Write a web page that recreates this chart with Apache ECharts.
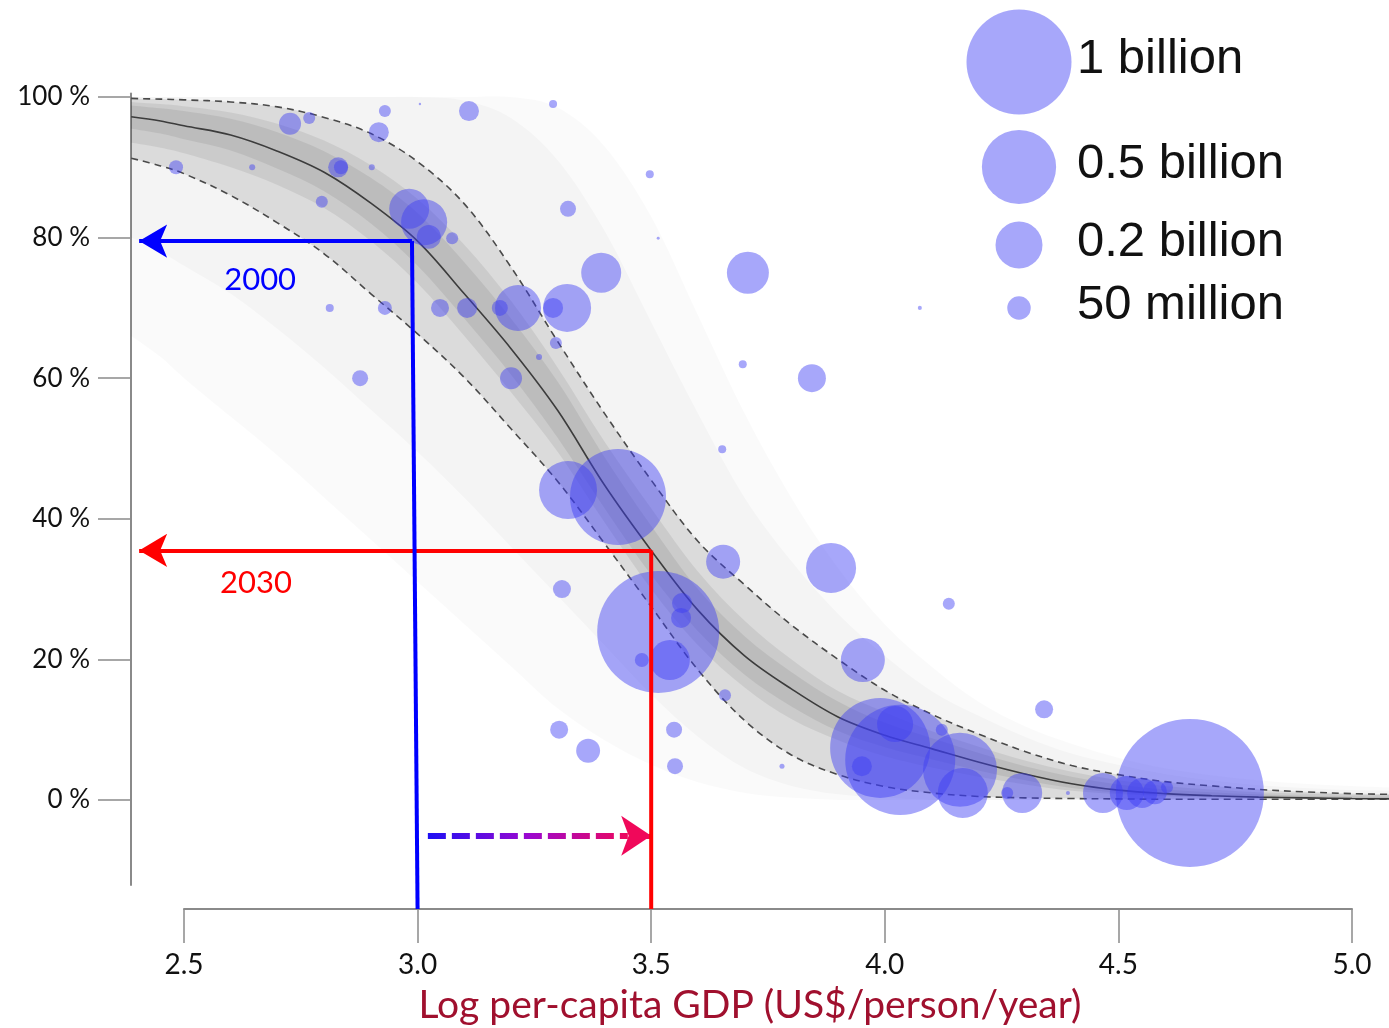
<!DOCTYPE html>
<html>
<head>
<meta charset="utf-8">
<script src="https://cdn.jsdelivr.net/npm/echarts@6/dist/echarts.min.js"></script>
<style>
  html, body { margin: 0; padding: 0; background: #ffffff; }
  #chart { width: 1389px; height: 1028px; }
</style>
</head>
<body>
<div id="chart"></div>
<script>
// Log10 per-capita GDP positions at which the fitted curves are sampled
const gdpGrid = [2.387, 2.45, 2.5, 2.6, 2.7, 2.8, 2.9, 3.0, 3.1, 3.2, 3.3, 3.4, 3.5, 3.6, 3.7, 3.8, 3.9, 4.0, 4.1, 4.2, 4.3, 4.4, 4.5, 4.6, 4.7, 4.8, 4.9, 5.0, 5.08];
// Central fit (%)
const fitMid = [97.2, 96.6, 95.9, 94.6, 92.3, 89.3, 84.9, 79.5, 72.0, 64.2, 55.4, 44.8, 35.5, 27.0, 20.5, 15.8, 11.8, 9.2, 7.3, 5.4, 3.7, 2.3, 1.4, 0.9, 0.6, 0.4, 0.3, 0.2, 0.15];
// Dashed confidence bounds (%)
const fitUpper = [99.8, 99.7, 99.6, 99.3, 98.6, 97.1, 94.8, 90.8, 84.8, 75.8, 65.2, 55.0, 45.5, 36.8, 30.6, 24.9, 20.0, 15.6, 12.2, 9.4, 6.9, 4.9, 3.6, 2.6, 2.0, 1.5, 1.15, 0.9, 0.8];
const fitLower = [91.3, 90.2, 89.1, 86.0, 82.1, 77.7, 72.0, 66.3, 60.1, 52.8, 45.3, 36.5, 27.5, 18.5, 11.3, 6.4, 3.6, 1.9, 1.0, 0.5, 0.3, 0.2, 0.15, 0.1, 0.1, 0.1, 0.1, 0.1, 0.1];
// Densest part of the bootstrap fits (%), wide and narrow
const coreUpper = [99.3, 99.0, 98.7, 97.8, 96.2, 93.8, 90.3, 85.5, 79.0, 71.0, 61.5, 51.0, 41.5, 32.5, 25.5, 20.0, 15.5, 12.5, 9.8, 7.6, 5.6, 4.0, 2.8, 2.0, 1.5, 1.1, 0.9, 0.75, 0.7];
const coreLower = [93.5, 92.8, 92.0, 90.0, 87.5, 84.2, 79.5, 73.5, 66.0, 58.0, 49.5, 39.5, 30.0, 22.0, 16.0, 11.5, 8.5, 6.2, 4.6, 3.3, 2.2, 1.3, 0.8, 0.5, 0.35, 0.25, 0.2, 0.15, 0.12];
const ridgeUpper = [98.8, 98.4, 98.0, 96.9, 95.0, 92.3, 88.5, 83.5, 76.5, 68.5, 59.5, 48.8, 39.0, 30.0, 23.3, 18.2, 14.0, 11.0, 8.8, 6.7, 4.8, 3.3, 2.2, 1.5, 1.1, 0.8, 0.6, 0.5, 0.45];
const ridgeLower = [95.5, 94.8, 94.0, 92.4, 89.8, 86.6, 82.0, 76.0, 68.5, 60.5, 51.5, 41.5, 32.0, 24.0, 17.8, 13.3, 9.8, 7.5, 5.8, 4.2, 2.8, 1.7, 1.0, 0.6, 0.45, 0.3, 0.25, 0.2, 0.15];
// Faint fan of individual bootstrap fits (%), inner and outer reach
const fanInUpper = [100, 100, 100, 100, 100, 100, 100, 100, 99.5, 97.0, 91.0, 81.0, 68.0, 55.0, 43.0, 34.0, 26.5, 20.5, 15.5, 12.0, 9.0, 6.6, 5.0, 3.7, 2.8, 2.1, 1.7, 1.4, 1.3];
const fanInLower = [80.0, 78.0, 76.0, 72.0, 67.0, 61.5, 55.5, 49.5, 43.0, 36.0, 29.0, 22.0, 15.0, 9.0, 4.5, 2.0, 0.8, 0.3, 0, 0, 0, 0, 0, 0, 0, 0, 0, 0, 0];
const fanOutUpper = [100, 100, 100, 100, 100, 100, 100, 100, 100, 100, 98.5, 93.0, 83.0, 69.0, 55.0, 43.0, 33.0, 25.0, 19.0, 14.0, 10.5, 8.0, 6.0, 4.5, 3.5, 2.8, 2.3, 2.0, 1.8];
const fanOutLower = [66.0, 63.0, 60.0, 54.5, 49.0, 43.0, 37.0, 31.0, 25.0, 19.0, 13.0, 8.5, 5.0, 2.5, 1.0, 0.3, 0, 0, 0, 0, 0, 0, 0, 0, 0, 0, 0, 0, 0];

// Countries: log GDP, share (%), population (millions)
const countryGdp = [2.483, 2.646, 2.727, 2.768, 2.830, 2.836, 2.902, 2.795, 2.917, 2.930, 3.005, 3.110, 3.290, 2.982, 3.014, 3.024, 3.074, 3.322, 3.497, 3.515, 3.393, 3.707, 2.812, 2.930, 3.048, 3.106, 3.176, 3.215, 3.290, 3.320, 3.296, 3.260, 3.200, 2.877, 3.696, 3.844, 4.075, 3.652, 3.322, 3.429, 3.654, 3.885, 3.309, 4.137, 3.515, 3.566, 3.564, 3.540, 3.480, 3.658, 3.953, 4.341, 3.303, 3.365, 3.549, 3.551, 3.780, 3.990, 4.033, 4.022, 3.951, 4.122, 4.161, 4.167, 4.294, 4.262, 4.653, 4.467, 4.518, 4.551, 4.578, 4.604, 4.392];
const countryShare = [90.0, 90.0, 96.2, 97.0, 90.0, 90.0, 90.0, 85.1, 95.0, 98.0, 99.0, 98.0, 99.0, 84.1, 82.2, 80.1, 79.9, 84.1, 89.0, 79.9, 75.0, 75.0, 70.0, 70.0, 70.0, 70.0, 70.0, 70.0, 70.0, 70.0, 65.0, 63.0, 60.0, 60.0, 62.0, 60.0, 70.0, 49.9, 44.1, 43.1, 33.9, 33.0, 30.0, 27.9, 23.9, 28.0, 25.9, 19.9, 19.9, 14.9, 19.9, 12.9, 10.0, 7.0, 10.0, 4.8, 4.8, 7.4, 5.7, 10.8, 4.8, 10.0, 4.3, 1.0, 1.0, 1.0, 1.0, 1.0, 1.0, 1.0, 1.1, 1.8, 1.0];
const countryPop = [17.8, 3.3, 43.9, 13.1, 36.3, 17.8, 3.3, 13.1, 36.3, 13.1, 0.5, 36.3, 5.8, 145, 192, 52, 13.1, 23.2, 5.8, 0.8, 145, 160, 5.8, 17.8, 29.4, 36.3, 23.2, 192, 36.3, 209, 13.1, 3.3, 43.9, 23.2, 5.8, 71.1, 1.5, 5.8, 305, 836, 105, 227, 29.4, 13.1, 1350, 36.3, 36.3, 145, 17.8, 13.1, 176, 29.4, 29.4, 52, 23.2, 23.2, 2.3, 907, 1098, 118, 36.3, 13.1, 497, 227, 145, 13.1, 1987, 145, 105, 82, 52, 13.1, 1.5];

// Axis ticks
const shareTicks = [0, 20, 40, 60, 80, 100];
const gdpTickMin = 2.5, gdpTickMax = 5.0, gdpTickStep = 0.5;

// Bubble size key (millions)
const keyPops = [1000, 500, 200, 50];
const keyNames = ['1 billion', '0.5 billion', '0.2 billion', '50 million'];

// Year read-offs: GDP, share, colour
const yearNames = ['2000', '2030'];
const yearGdp = [3.0, 3.5];
const yearCornerGdp = [2.988, 3.5];
const yearShare = [79.5, 35.5];
const yearColors = ['#0000ff', '#ff0000'];
const yearLabelGdp = [2.663, 2.654];
const yearLabelShare = [74.0, 30.9];
const arrowTipGdp = 2.404;
const footShare = -15.5;
const shiftShare = -5.1;
const shiftFrom = 3.022;

const bubbleFill = 'rgba(60,60,245,0.45)';
const bubbleRadius = p => 52.5 * Math.sqrt(p / 1000);

function pairs(ys) { return gdpGrid.map((x, i) => [x, ys[i]]); }

// Cubic Catmull-Rom path through pixel points (same smoothing as the fit lines)
function splinePath(pts, moveFirst) {
  let d = (moveFirst ? 'M' : 'L') + pts[0][0] + ',' + pts[0][1];
  for (let i = 0; i < pts.length - 1; i++) {
    const p0 = pts[Math.max(i - 1, 0)], p1 = pts[i], p2 = pts[i + 1], p3 = pts[Math.min(i + 2, pts.length - 1)];
    const c1x = p1[0] + (p2[0] - p0[0]) / 6, c1y = p1[1] + (p2[1] - p0[1]) / 6;
    const c2x = p2[0] - (p3[0] - p1[0]) / 6, c2y = p2[1] - (p3[1] - p1[1]) / 6;
    d += 'C' + c1x + ',' + c1y + ' ' + c2x + ',' + c2y + ' ' + p2[0] + ',' + p2[1];
  }
  return d;
}

// Shaded band between two sampled curves
function band(name, hi, lo, color) {
  return {
    type: 'custom', name: name, coordinateSystem: 'cartesian2d', xAxisIndex: 0, yAxisIndex: 0,
    clip: true, silent: true, z: 1,
    data: [[gdpGrid[0], lo[0]]],
    renderItem: (params, api) => {
      const top = gdpGrid.map((x, i) => api.coord([x, hi[i]]));
      const bot = gdpGrid.map((x, i) => api.coord([x, lo[i]])).reverse();
      const d = splinePath(top, true) + splinePath(bot, false) + 'Z';
      return { type: 'path', shape: { pathData: d }, style: { fill: color, stroke: null } };
    }
  };
}

const chart = echarts.init(document.getElementById('chart'), null, { renderer: 'canvas' });

// Horizontal read-off arrows plus the shift arrow
const arrowLines = [];
yearNames.forEach((n, i) => {
  arrowLines.push([
    { coord: [yearCornerGdp[i], yearShare[i]], symbol: 'none',
      lineStyle: { color: yearColors[i], width: 4, type: 'solid' } },
    { coord: [arrowTipGdp, yearShare[i]], symbol: 'arrow', symbolSize: [25, 28] }
  ]);
});
arrowLines.push([
  { coord: [shiftFrom, shiftShare], symbol: 'none',
    lineStyle: { width: 6, type: [18, 6], cap: 'butt',
      color: new echarts.graphic.LinearGradient(0, 0, 1, 0, [
        { offset: 0, color: '#1a10f5' }, { offset: 0.5, color: '#9a08d0' }, { offset: 1, color: '#f0085a' }]) } },
  { coord: [yearGdp[1] - 0.05, shiftShare], symbol: 'none' }
]);
arrowLines.push([
  { coord: [yearGdp[1] - 0.04, shiftShare], symbol: 'none', lineStyle: { width: 5, type: 'solid', color: '#f0085a' } },
  { coord: [yearGdp[1], shiftShare], symbol: 'arrow', symbolSize: [30, 30] }
]);

// Vertical drop lines from the GDP axis up to the fitted curve
const dropLines = yearNames.map((n, i) => ({
  type: 'line', name: 'drop-' + n, clip: false, silent: true, z: 6, symbol: 'none',
  data: [[yearGdp[i], footShare], [yearCornerGdp[i], yearShare[i]]],
  lineStyle: { color: yearColors[i], width: 4 }
}));

const option = {
  animation: false,
  backgroundColor: '#ffffff',
  grid: [
    { left: 131, right: 0, top: 93.5, bottom: 143, containLabel: false },
    { left: 184, right: 37, top: 908, height: 1, containLabel: false }
  ],
  xAxis: [
    { type: 'value', gridIndex: 0, min: 2.3866, max: 5.0792, show: false },
    { type: 'value', gridIndex: 1, min: gdpTickMin, max: gdpTickMax, interval: gdpTickStep,
      position: 'bottom',
      axisLine: { show: true, lineStyle: { color: '#8a8a8a', width: 2 } },
      axisTick: { show: true, inside: false, length: 34, lineStyle: { color: '#8a8a8a', width: 1.5 } },
      axisLabel: { show: true, margin: 42, color: '#111', fontFamily: 'Lato', fontSize: 28,
        formatter: v => v.toFixed(1) },
      splitLine: { show: false },
      name: 'Log per-capita GDP (US$/person/year)', nameLocation: 'middle', nameGap: 77,
      nameTextStyle: { color: '#a0102e', fontFamily: 'Lato', fontSize: 39, padding: [0, 36, 0, 0] } }
  ],
  yAxis: [
    { type: 'value', gridIndex: 0, min: -12.1, max: 100.5,
      axisLine: { show: true, lineStyle: { color: '#8a8a8a', width: 2 } },
      axisTick: { show: true, length: 33, customValues: shareTicks, lineStyle: { color: '#8a8a8a', width: 1.5 } },
      axisLabel: { show: true, margin: 41, customValues: shareTicks, color: '#111', fontFamily: 'Lato', fontSize: 26,
        formatter: v => v + ' %' },
      splitLine: { show: false } },
    { type: 'value', gridIndex: 1, show: false }
  ],
  series: [
    band('fan-outer', fanOutUpper, fanOutLower, 'rgba(0,0,0,0.02)'),
    band('fan-inner', fanInUpper, fanInLower, 'rgba(0,0,0,0.025)'),
    band('ci', fitUpper, fitLower, 'rgba(0,0,0,0.10)'),
    band('core', coreUpper, coreLower, 'rgba(0,0,0,0.07)'),
    band('ridge', ridgeUpper, ridgeLower, 'rgba(0,0,0,0.07)'),
    { type: 'line', name: 'upper', data: pairs(fitUpper), smooth: 0.35, symbol: 'none', silent: true, z: 3,
      lineStyle: { color: '#4a4a4a', width: 1.6, type: [7, 5] } },
    { type: 'line', name: 'lower', data: pairs(fitLower), smooth: 0.35, symbol: 'none', silent: true, z: 3,
      lineStyle: { color: '#4a4a4a', width: 1.6, type: [7, 5] } },
    { type: 'line', name: 'fit', data: pairs(fitMid), smooth: 0.35, symbol: 'none', silent: true, z: 3,
      lineStyle: { color: '#3c3c3c', width: 1.6 } },
    { type: 'scatter', name: 'countries', clip: false, silent: true, z: 4,
      data: countryGdp.map((g, i) => [g, countryShare[i], countryPop[i]]),
      symbolSize: d => 2 * bubbleRadius(d[2]),
      itemStyle: { color: bubbleFill, borderWidth: 0, opacity: 1 } },
    ...dropLines,
    { type: 'line', name: 'arrows', data: [], clip: false, silent: true, z: 6,
      markLine: { silent: true, animation: false, symbol: ['none', 'none'], label: { show: false },
        emphasis: { disabled: true }, data: arrowLines } },
    { type: 'scatter', name: 'year-labels', clip: false, silent: true, z: 6, symbolSize: 0,
      itemStyle: { opacity: 1 },
      data: yearNames.map((n, i) => ({ value: [yearLabelGdp[i], yearLabelShare[i]], name: n,
        label: { color: yearColors[i] } })),
      label: { show: true, position: 'inside', formatter: '{b}', fontFamily: 'Lato', fontSize: 31 } }
  ],
  graphic: keyPops.map((p, i) => {
    const cy = [62, 167, 245, 308][i];
    return { type: 'group', children: [
      { type: 'circle', shape: { cx: 1019, cy: cy, r: bubbleRadius(p) }, style: { fill: bubbleFill }, silent: true },
      { type: 'text', x: 1077, y: cy - 3, silent: true,
        style: { text: keyNames[i], fill: '#111', font: '49px "Liberation Sans", Arial, sans-serif',
          verticalAlign: 'middle', textVerticalAlign: 'middle', align: 'left', textAlign: 'left' } }
    ] };
  })
};

chart.setOption(option);
</script>
</body>
</html>
